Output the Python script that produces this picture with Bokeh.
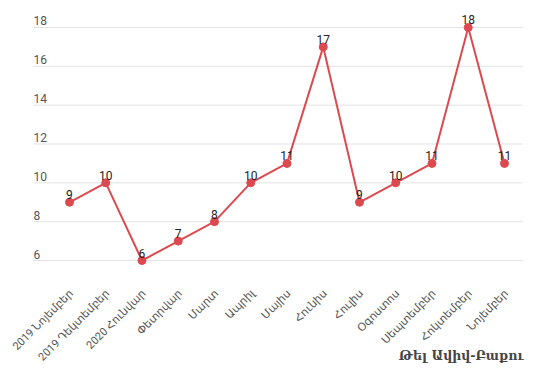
import math
from bokeh.plotting import figure
from bokeh.models import ColumnDataSource, Range1d
from bokeh.core.properties import value
from bokeh.embed import file_html
from bokeh.resources import INLINE

months = ["2019 Նոյեմբեր", "2019 Դեկտեմբեր", "2020 Հունվար", "Փետրվար", "Մարտ",
          "Ապրիլ", "Մայիս", "Հունիս", "Հուլիս", "Օգոստոս", "Սեպտեմբեր",
          "Հոկտեմբեր", "Նոյեմբեր"]
flights = [9, 10, 6, 7, 8, 10, 11, 17, 9, 10, 11, 18, 11]
y_ticks = [6, 8, 10, 12, 14, 16, 18]
chart_title = "Թել Ավիվ-Բաքու"

FONT = "Roboto, 'DejaVu Sans', sans-serif"
RED = "#dc4a50"

# layout constants (data units)
X0, X1 = -1.903, 12.80          # full canvas extent
GX0, GX1 = -0.99, 12.5          # horizontal extent of the plot area / gridlines
Y0, Y1 = -0.385, 19.39
LABEL_Y = 4.40                  # row of rotated category labels
TITLE_Y = 1.11                  # row of the caption at the bottom right

idx = list(range(len(months)))
src = ColumnDataSource(dict(x=idx, y=flights, lbl=[str(v) for v in flights]))

p = figure(width=533, height=384, output_backend="svg", toolbar_location=None,
           x_range=Range1d(X0, X1), y_range=Range1d(Y0, Y1),
           x_axis_location=None, y_axis_location=None,
           min_border_left=0, min_border_right=0, min_border_top=0, min_border_bottom=0)
p.outline_line_color = None
p.grid.visible = False
p.background_fill_color = "white"
p.border_fill_color = "white"

# horizontal gridlines from the tick values
gsrc = ColumnDataSource(dict(x0=[GX0] * len(y_ticks), x1=[GX1] * len(y_ticks),
                             y=y_ticks, t=[str(v) for v in y_ticks]))
p.segment(x0="x0", y0="y", x1="x1", y1="y", source=gsrc,
          line_color="#e3e3e3", line_width=1)

# y tick labels drawn above gridlines
p.text(x="x0", y="y", text="t", source=gsrc, text_font=value(FONT),
       text_font_size="12px", text_color="#555555", text_baseline="bottom",
       text_align="left", y_offset=-2)

# rotated category labels
csrc = ColumnDataSource(dict(x=idx, y=[LABEL_Y] * len(idx), t=months))
p.text(x="x", y="y", text="t", source=csrc, angle=math.pi / 4,
       text_font=value(FONT), text_font_size="11px", text_color="#555555",
       text_align="right", text_baseline="middle", x_offset=2)

# caption
tsrc = ColumnDataSource(dict(x=[GX1], y=[TITLE_Y], t=[chart_title]))
p.text(x="x", y="y", text="t", source=tsrc, text_font=value("'DejaVu Serif', serif"),
       text_font_size="12.5px", text_font_style="bold", text_color="#444444",
       text_align="right", text_baseline="middle", x_offset=1)

p.line(x="x", y="y", source=src, line_color=RED, line_width=2)
p.scatter(x="x", y="y", source=src, size=8, fill_color=RED, line_color=RED)
p.text(x="x", y="y", text="lbl", source=src, text_font=value(FONT),
       text_font_size="12px", text_color="#222222", text_baseline="bottom",
       text_align="center", y_offset=-3)

open("out.html", "w").write(file_html(p, INLINE))
